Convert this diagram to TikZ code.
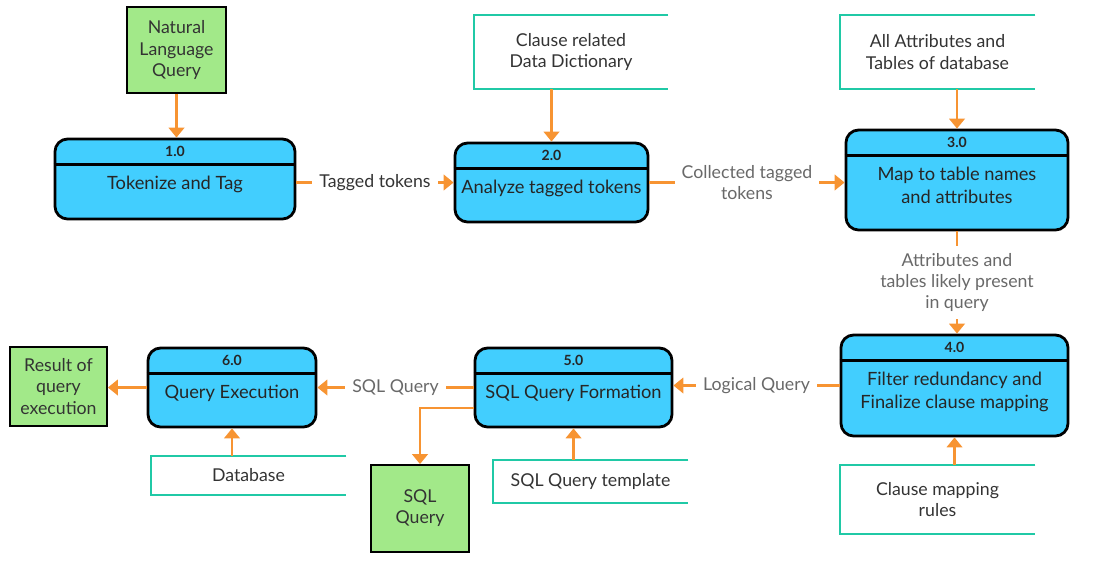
\documentclass[tikz,border=0pt]{standalone}
\usepackage{fontspec}
\setmainfont{Lato}
\usetikzlibrary{arrows.meta, positioning, calc}

\definecolor{procblue}{RGB}{66,206,254}
\definecolor{termgreen}{RGB}{162,233,137}
\definecolor{storeteal}{RGB}{32,201,166}
\definecolor{floworange}{RGB}{247,148,50}
\definecolor{lblgray}{RGB}{105,105,105}

\newcommand{\txtfont}{\fontsize{13}{16.4}\selectfont}
\newcommand{\lblfont}{\fontsize{12.6}{15}\selectfont}

\tikzset{
  proc/.style={draw, line width=2pt, rounded corners=9pt, fill=procblue},
  term/.style={draw, line width=1.3pt, fill=termgreen, align=center, font=\lblfont, text=black!80},
  store/.style={align=center, font=\lblfont, text=black!80},
  storeline/.style={storeteal, line width=1.4pt},
  flow/.style={floworange, line width=1.5pt, -{Triangle[width=11pt,length=7pt]}},
  flowlbl/.style={fill=white, text=lblgray, font=\lblfont, align=center, inner sep=5pt},
}

% process box: name, centre, width, height, number, text
\newcommand{\procnode}[6]{%
  \node[proc, minimum width=#3, minimum height=#4] (#1) at (#2) {};
  \draw[line width=1.6pt] ([yshift=-0.675cm]#1.north west) -- ([yshift=-0.675cm]#1.north east);
  \node[font=\bfseries\fontsize{10}{11}\selectfont, text=black!85] (#1-num) at ([yshift=-0.35cm]#1.north) {#5};
  \node[anchor=north, inner sep=0pt, align=center, font=\txtfont, text=black!85] (#1-txt) at ([yshift=-0.96cm]#1.north) {#6};
}

\begin{document}
\begin{tikzpicture}[x=0.025cm, y=-0.025cm]
\useasboundingbox (0,0) rectangle (1093,567);

% top row
\node[term, minimum width=2.475cm, minimum height=2.15cm] (nlq) at (176.5,50) {Natural\\Language\\Query};
\procnode{p1}{175,179}{6cm}{2cm}{1.0}{Tokenize and Tag}

\node[store, minimum width=4.85cm, minimum height=1.85cm] (ds1) at (571,52) {Clause related\\Data Dictionary};
\procnode{p2}{551.5,182.5}{4.825cm}{1.975cm}{2.0}{Analyze tagged tokens}

\node[store, minimum width=4.875cm, minimum height=1.85cm] (ds2) at (937.5,52) {All Attributes and\\Tables of database};
\procnode{p3}{957,180}{5.55cm}{2.5cm}{3.0}{Map to table names\\and attributes}

% bottom row
\procnode{p4}{954.5,385.5}{5.675cm}{2.525cm}{4.0}{Filter redundancy and\\Finalize clause mapping}
\node[store, minimum width=4.875cm, minimum height=1.725cm] (ds3) at (937.5,499.5) {Clause mapping\\rules};

\procnode{p5}{573.5,387.5}{4.925cm}{1.975cm}{5.0}{SQL Query Formation}
\node[store, minimum width=4.875cm, minimum height=1.075cm] (ds4) at (590.5,481.5) {SQL Query template};
\node[term, minimum width=2.45cm, minimum height=2.175cm] (sq) at (420,508.5) {SQL\\Query};

\procnode{p6}{232,387.5}{4.2cm}{1.975cm}{6.0}{Query Execution}
\node[store, minimum width=4.875cm, minimum height=0.975cm] (ds5) at (248.5,475.5) {Database};
\node[term, minimum width=2.425cm, minimum height=1.975cm] (res) at (58.5,386.5) {Result of\\query\\execution};

% data stores are open on the right
\foreach \s in {ds1,ds2,ds3,ds4,ds5}
  \draw[storeline] (\s.north east) -- (\s.north west) -- (\s.south west) -- (\s.south east);

% data flows
\draw[flow] (nlq.south) -- (nlq.south |- p1.north);
\draw[flow] (p2.north |- ds1.south) -- (p2.north);
\draw[flow] (p3.north |- ds2.south) -- (p3.north);
\draw[flow] (p1.east |- p2.west) -- (p2.west) node[flowlbl, midway, text=black!80]{Tagged tokens};
\draw[flow] (p2.east) -- (p2.east -| p3.west) node[flowlbl, midway]{Collected tagged\\tokens};
\draw[flow] (p3.south) -- (p3.south |- p4.north) node[flowlbl, midway]{Attributes and\\tables likely present\\in query};
\draw[flow] (p4.south |- ds3.north) -- (p4.south);
\draw[flow] (p4.west) -- (p4.west -| p5.east) node[flowlbl, midway]{Logical Query};
\draw[flow] (p5.south |- ds4.north) -- (p5.south);
\draw[flow] (p5.west) -- (p5.west -| p6.east) node[flowlbl, midway]{SQL Query};
\draw[flow] ([yshift=-0.51cm]p5.west) -| (sq.north);
\draw[flow] (p6.south |- ds5.north) -- (p6.south);
\draw[flow] (p6.west) -- (p6.west -| res.east);

\end{tikzpicture}
\end{document}
